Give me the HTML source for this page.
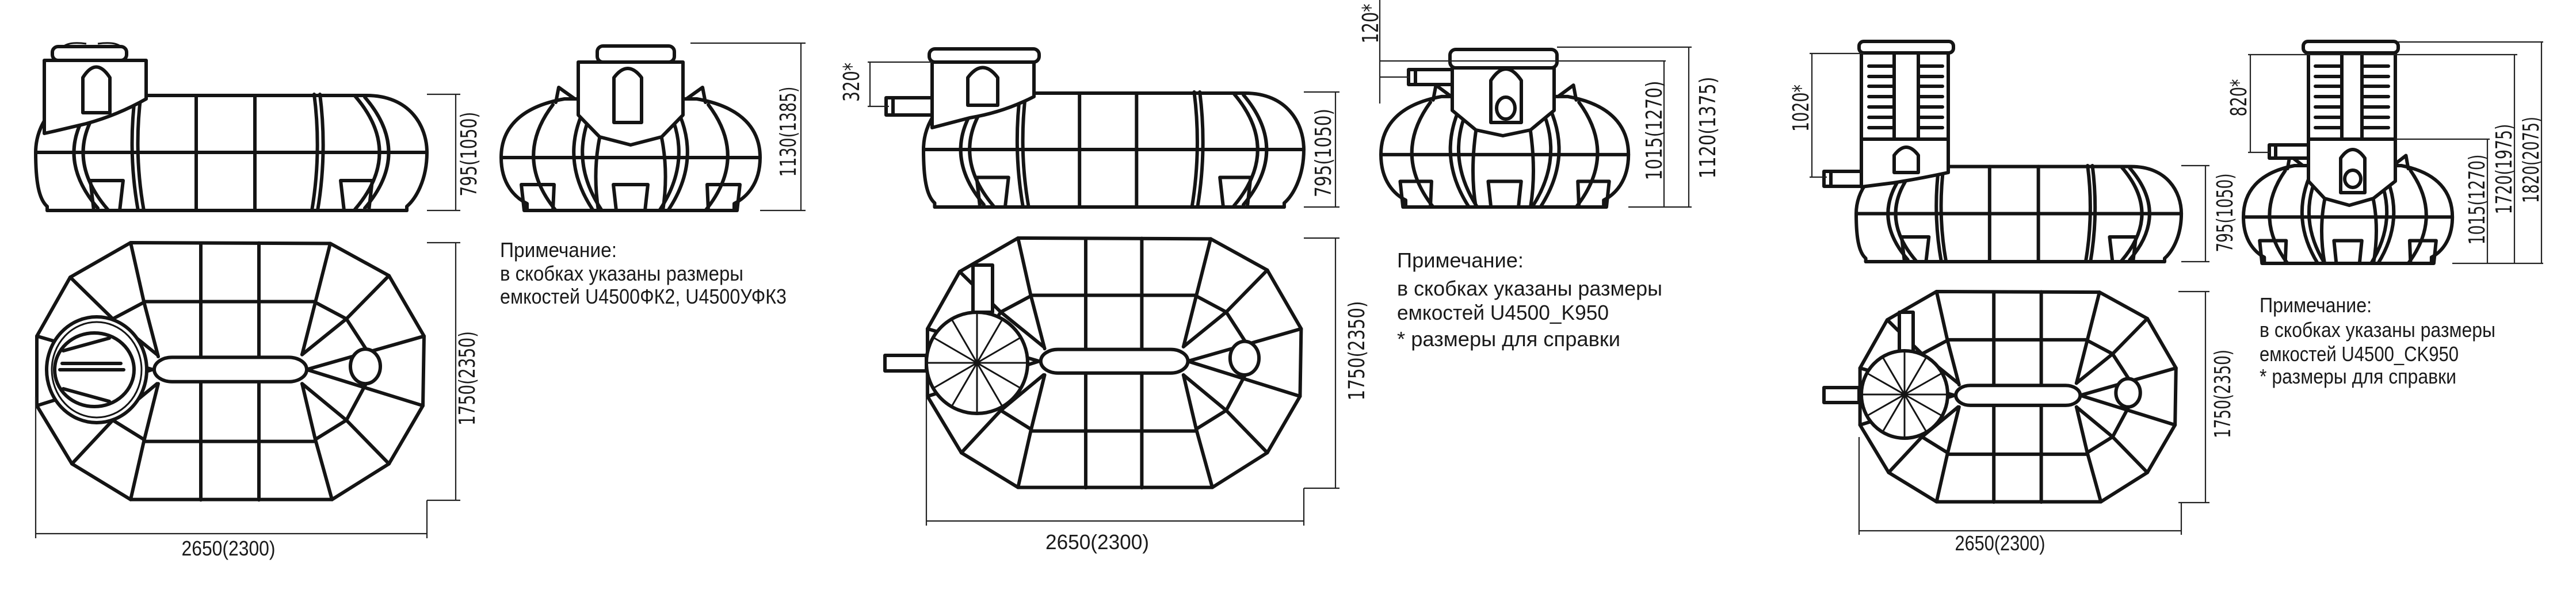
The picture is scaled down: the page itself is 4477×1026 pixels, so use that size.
<!DOCTYPE html>
<html><head><meta charset="utf-8"><style>
html,body{margin:0;padding:0;background:#fff}
svg{display:block}
.t{fill:none;stroke:#141414;stroke-width:6;stroke-linejoin:round;stroke-linecap:round}
.w{fill:#fff;stroke:#141414;stroke-width:6;stroke-linejoin:round}
.f{stroke:#141414;stroke-width:3;fill:none}
.d{stroke:#222;stroke-width:2.2;fill:none}
text{font-family:"Liberation Sans Narrow","Liberation Sans",sans-serif;fill:#1a1a1a}
.v{font-family:"DejaVu Sans","Liberation Sans",sans-serif;font-size:38px}
.n{font-size:36px}
</style></head><body>
<svg width="4477" height="1026" viewBox="0 0 4477 1026" xmlns="http://www.w3.org/2000/svg">
<defs>
<g id="side">
 <path vector-effect="non-scaling-stroke" class="w" d="M100,2 H575 C650,2 680,55 680,101 C680,150 660,182 645,195 V202 H20 V195 C5,182 0,150 0,101 C0,55 30,2 100,2 Z"/>
 <g class="t">
  <path vector-effect="non-scaling-stroke" d="M0,101 H680"/>
  <path vector-effect="non-scaling-stroke" d="M125,3 Q40,101 125,200"/>
  <path vector-effect="non-scaling-stroke" d="M108,5 Q25,101 108,198"/>
  <path vector-effect="non-scaling-stroke" d="M555,3 Q640,101 555,200"/>
  <path vector-effect="non-scaling-stroke" d="M572,5 Q655,101 572,198"/>
  <path vector-effect="non-scaling-stroke" d="M173,0 Q160,101 178,202"/>
  <path vector-effect="non-scaling-stroke" d="M183,0 Q170,101 188,202"/>
  <path vector-effect="non-scaling-stroke" d="M494,0 Q507,101 490,202"/>
  <path vector-effect="non-scaling-stroke" d="M484,0 Q497,101 480,202"/>
  <path vector-effect="non-scaling-stroke" d="M279,2 V202"/>
  <path vector-effect="non-scaling-stroke" d="M381,2 V202"/>
  <path vector-effect="non-scaling-stroke" d="M95,150 H152 L146,202 H101 Z"/>
  <path vector-effect="non-scaling-stroke" d="M530,150 H585 L579,202 H536 Z"/>
  <path vector-effect="non-scaling-stroke" d="M20,202 H645"/>
 </g>
</g>
<g id="end">
 <path vector-effect="non-scaling-stroke" class="w" d="M110,8 C30,22 0,62 0,110 C0,157 25,180 45,190 V202 H405 V190 C425,180 450,157 450,110 C450,62 420,22 340,8 Z"/>
 <g class="t">
  <path vector-effect="non-scaling-stroke" d="M95,14 L100,-12 L128,8"/>
  <path vector-effect="non-scaling-stroke" d="M355,14 L350,-12 L322,8"/>
  <path vector-effect="non-scaling-stroke" d="M0,110 H450"/>
  <path vector-effect="non-scaling-stroke" d="M90,18 Q20,110 95,202"/>
  <path vector-effect="non-scaling-stroke" d="M155,6 Q95,105 160,202"/>
  <path vector-effect="non-scaling-stroke" d="M170,6 Q110,105 175,202"/>
  <path vector-effect="non-scaling-stroke" d="M360,18 Q430,110 355,202"/>
  <path vector-effect="non-scaling-stroke" d="M295,6 Q355,105 290,202"/>
  <path vector-effect="non-scaling-stroke" d="M280,6 Q340,105 275,202"/>
  <path vector-effect="non-scaling-stroke" d="M35,157 H92 L90,202 H40 Z"/>
  <path vector-effect="non-scaling-stroke" d="M358,157 H415 L410,202 H360 Z"/>
  <path vector-effect="non-scaling-stroke" d="M195,157 H255 L250,202 H200 Z"/>
 </g>
</g>
<g id="top">
 <polygon vector-effect="non-scaling-stroke" class="w" points="165,0 512,2 614,84 675,238 673,415 614,563 515,654 165,654 63,563 2,415 2,238 60,88"/>
 <g class="t">
  <path vector-effect="non-scaling-stroke" d="M165,0 L188,150 L213,290 M213,359 L188,506 L165,654"/>
  <path vector-effect="non-scaling-stroke" d="M512,2 L486,152 L463,285 M463,359 L486,501 L515,654"/>
  <path vector-effect="non-scaling-stroke" d="M287,1 V655 M388,1 V655"/>
  <path vector-effect="non-scaling-stroke" d="M188,150 H486 M188,506 H486"/>
  <path vector-effect="non-scaling-stroke" d="M486,152 L540,194 L614,84 M463,285 L540,194 L576,275 M471,323 L675,238 M471,323 L673,415 M486,501 L540,452 L614,563 M463,359 L540,452 L576,354"/>
  <path vector-effect="non-scaling-stroke" d="M188,152 L134,194 L60,88 M211,285 L134,194 L98,275 M203,323 L2,238 M203,323 L2,415 M188,501 L134,452 L63,563 M211,359 L134,452 L98,354"/>
  <rect vector-effect="non-scaling-stroke" class="w" x="206" y="292" width="265" height="62" rx="31"/>
  <ellipse vector-effect="non-scaling-stroke" class="w" cx="573" cy="315" rx="26" ry="44"/>
 </g>
</g>
</defs>

<!-- ============ PANEL 1 ============ -->
<use href="#side" transform="translate(62,164)"/>
<g class="t">
 <path class="w" d="M77,232 V105 H254 V172 Q205,200 150,215 L95,228 Z"/>
 <path class="w" d="M144,196 V135 Q167,98 191,135 V196 Z"/>
 <rect class="w" x="91" y="81" width="129" height="24" rx="10"/>
</g>
<path class="f" d="M110,81 Q120,72 150,76 M170,76 Q200,72 210,81"/>
<use href="#end" transform="translate(871,164)"/>
<g class="t">
 <path class="w" d="M1005,108 H1187 V200 L1150,238 L1096,252 L1042,238 L1005,200 Z"/>
 <path class="w" d="M1067,213 V135 Q1091,103 1115,135 V213 Z"/>
 <rect class="w" x="1038" y="80" width="134" height="28" rx="10"/>
 <path d="M1042,240 Q1030,300 1040,366 M1150,240 Q1162,300 1152,366"/>
</g>
<use href="#top" transform="translate(62,422) scale(1,0.683)"/>
<g class="t">
 <ellipse class="w" cx="168" cy="643" rx="87" ry="92"/>
 <ellipse cx="168" cy="643" rx="78" ry="83" class="f"/>
 <ellipse class="w" cx="164" cy="643" rx="69" ry="64"/>
 <path d="M104,643 H215 M108,632 H210 M110,610 L190,588 M110,676 L190,698"/>
</g>
<g class="d">
 <path d="M742,164 H800 M742,366 H800 M792,164 V366"/>
 <path d="M1200,75 H1400 M1321,366 H1400 M1392,75 V366"/>
 <path d="M742,422 H800 M742,870 H800 M792,422 V870"/>
 <path d="M62,690 V936 M742,870 V936 M62,928 H742"/>
</g>
<text class="v" transform="translate(828,268) rotate(-90)" text-anchor="middle" textLength="147" lengthAdjust="spacingAndGlyphs">795(1050)</text>
<text class="v" transform="translate(1383,229) rotate(-90)" text-anchor="middle" textLength="157" lengthAdjust="spacingAndGlyphs">1130(1385)</text>
<text class="v" transform="translate(825,658) rotate(-90)" text-anchor="middle" textLength="164" lengthAdjust="spacingAndGlyphs">1750(2350)</text>
<text class="n" x="397" y="966" text-anchor="middle" textLength="163" lengthAdjust="spacingAndGlyphs">2650(2300)</text>
<text class="n" x="869" y="447" textLength="203" lengthAdjust="spacingAndGlyphs">Примечание:</text>
<text class="n" x="869" y="488" textLength="423" lengthAdjust="spacingAndGlyphs">в скобках указаны размеры</text>
<text class="n" x="869" y="528" textLength="498" lengthAdjust="spacingAndGlyphs">емкостей U4500ФК2, U4500УФК3</text>

<!-- ============ PANEL 2 ============ -->
<use href="#side" transform="translate(1605,160) scale(0.972,0.99)"/>
<g class="t">
 <path class="w" d="M1620,222 V108 H1797 V168 Q1745,195 1685,205 Z"/>
 <path class="w" d="M1682,183 V135 Q1708,100 1734,135 V183 Z"/>
 <rect class="w" x="1615" y="85" width="191" height="23" rx="10"/>
 <rect class="w" x="1540" y="170" width="80" height="30"/>
 <path d="M1552,170 V200"/>
</g>
<use href="#end" transform="translate(2400,160) scale(0.956,0.99)"/>
<g class="t">
 <path class="w" d="M2524,118 H2701 V192 L2660,226 L2612,236 L2565,226 L2524,192 Z"/>
 <path class="w" d="M2591,213 V140 Q2617,100 2644,140 V213 Z"/>
 <ellipse cx="2617" cy="188" rx="16" ry="19"/>
 <rect class="w" x="2520" y="86" width="186" height="32" rx="10"/>
 <rect class="w" x="2448" y="121" width="76" height="26"/>
 <path d="M2460,121 V147 M2565,228 Q2555,300 2565,360 M2660,228 Q2670,300 2660,360"/>
</g>
<use href="#top" transform="translate(1610,414) scale(0.965,0.663)"/>
<g class="t">
 <rect class="w" x="1691" y="461" width="34" height="82"/>
 <ellipse class="w" cx="1698" cy="631" rx="88" ry="88"/>
 <path class="f" d="M1698,631 L1784,631 M1698,631 L1772,588 M1698,631 L1741,557 M1698,631 L1698,545 M1698,631 L1655,557 M1698,631 L1624,588 M1698,631 L1612,631 M1698,631 L1624,674 M1698,631 L1655,705 M1698,631 L1698,717 M1698,631 L1741,705 M1698,631 L1772,674"/>
 <rect class="w" x="1538" y="618" width="72" height="27"/>
</g>
<g class="d">
 <path d="M1508,108 H1620 M1508,185 H1545 M1512,108 V185"/>
 <path d="M2266,160 H2328 M2266,360 H2328 M2321,160 V360"/>
 <path d="M2398,0 V180 M2398,106 H2895 M2398,134 H2450 M2892,106 V360 M2830,360 H2940"/>
 <path d="M2706,82 H2940 M2935,82 V360"/>
 <path d="M2266,414 H2328 M2266,849 H2328 M2321,414 V849"/>
 <path d="M1610,650 V914 M2266,849 V914 M1610,906 H2266"/>
</g>
<text class="v" transform="translate(1493,143) rotate(-90)" text-anchor="middle" textLength="68" lengthAdjust="spacingAndGlyphs">320*</text>
<text class="v" transform="translate(2313,266) rotate(-90)" text-anchor="middle" textLength="154" lengthAdjust="spacingAndGlyphs">795(1050)</text>
<text class="v" transform="translate(2395,41) rotate(-90)" text-anchor="middle" textLength="69" lengthAdjust="spacingAndGlyphs">120*</text>
<text class="v" transform="translate(2888,227) rotate(-90)" text-anchor="middle" textLength="173" lengthAdjust="spacingAndGlyphs">1015(1270)</text>
<text class="v" transform="translate(2981,222) rotate(-90)" text-anchor="middle" textLength="177" lengthAdjust="spacingAndGlyphs">1120(1375)</text>
<text class="v" transform="translate(2371,610) rotate(-90)" text-anchor="middle" textLength="173" lengthAdjust="spacingAndGlyphs">1750(2350)</text>
<text class="n" x="1907" y="955" text-anchor="middle" textLength="180" lengthAdjust="spacingAndGlyphs">2650(2300)</text>
<text class="n" x="2428" y="465" textLength="220" lengthAdjust="spacingAndGlyphs">Примечание:</text>
<text class="n" x="2428" y="514" textLength="461" lengthAdjust="spacingAndGlyphs">в скобках указаны размеры</text>
<text class="n" x="2428" y="556" textLength="368" lengthAdjust="spacingAndGlyphs">емкостей U4500_K950</text>
<text class="n" x="2428" y="602" textLength="388" lengthAdjust="spacingAndGlyphs">* размеры для справки</text>

<!-- ============ PANEL 3 ============ -->
<use href="#side" transform="translate(3226,288) scale(0.831,0.827)"/>
<g class="t">
 <path class="w" d="M3235,325 V92 H3386 V300 Q3340,310 3290,318 Z"/>
 <path d="M3235,242 H3386 M3292,92 V242 M3334,92 V242"/>
 <path d="M3248,115 H3292 M3248,133 H3292 M3248,150 H3292 M3248,168 H3292 M3248,186 H3292 M3248,204 H3292 M3248,222 H3292"/>
 <path d="M3334,115 H3376 M3334,133 H3376 M3334,150 H3376 M3334,168 H3376 M3334,186 H3376 M3334,204 H3376 M3334,222 H3376"/>
 <path class="w" d="M3292,300 V270 Q3313,242 3334,270 V300 Z"/>
 <rect class="w" x="3231" y="72" width="164" height="20" rx="8"/>
 <rect class="w" x="3170" y="298" width="65" height="26"/>
 <path d="M3182,298 V324"/>
</g>
<use href="#end" transform="translate(3899,281) scale(0.807,0.876)"/>
<g class="t">
 <path class="w" d="M4012,92 H4163 V315 L4125,345 L4083,357 L4040,345 L4012,315 Z"/>
 <path d="M4012,242 H4163 M4070,92 V242 M4105,92 V242"/>
 <path d="M4024,115 H4070 M4024,133 H4070 M4024,150 H4070 M4024,168 H4070 M4024,186 H4070 M4024,204 H4070 M4024,222 H4070"/>
 <path d="M4105,115 H4151 M4105,133 H4151 M4105,150 H4151 M4105,168 H4151 M4105,186 H4151 M4105,204 H4151 M4105,222 H4151"/>
 <path class="w" d="M4068,335 V275 Q4089,245 4110,275 V335 Z"/>
 <ellipse cx="4089" cy="311" rx="14" ry="15"/>
 <rect class="w" x="4003" y="72" width="165" height="20" rx="8"/>
 <rect class="w" x="3944" y="252" width="68" height="23"/>
 <path d="M3955,252 V275 M4040,348 Q4030,400 4040,458 M4125,348 Q4135,400 4125,458"/>
</g>
<use href="#top" transform="translate(3231,507) scale(0.816,0.559)"/>
<g class="t">
 <rect class="w" x="3301" y="543" width="24" height="69"/>
 <ellipse class="w" cx="3310" cy="686" rx="75" ry="76"/>
 <path class="f" d="M3310,686 L3385,686 M3310,686 L3375,649 M3310,686 L3348,621 M3310,686 L3310,610 M3310,686 L3272,621 M3310,686 L3245,649 M3310,686 L3235,686 M3310,686 L3245,723 M3310,686 L3272,751 M3310,686 L3310,762 M3310,686 L3348,751 M3310,686 L3375,723"/>
 <rect class="w" x="3170" y="674" width="61" height="26"/>
</g>
<g class="d">
 <path d="M3145,93 H3240 M3145,308 H3175 M3149,93 V308"/>
 <path d="M3791,288 H3840 M3791,455 H3840 M3833,288 V455"/>
 <path d="M3907,95 H4375 M3907,265 H3945 M3911,95 V265"/>
 <path d="M4163,242 H4327 M4323,242 V458 M4370,95 V458 M4168,73 H4420 M4417,73 V458 M4262,458 H4420"/>
 <path d="M3786,507 H3840 M3786,874 H3840 M3833,507 V874"/>
 <path d="M3231,760 V930 M3791,874 V930 M3231,923 H3791"/>
</g>
<text class="v" transform="translate(3143,188) rotate(-90)" text-anchor="middle" textLength="82" lengthAdjust="spacingAndGlyphs">1020*</text>
<text class="v" transform="translate(3880,370) rotate(-90)" text-anchor="middle" textLength="137" lengthAdjust="spacingAndGlyphs">795(1050)</text>
<text class="v" transform="translate(3904,170) rotate(-90)" text-anchor="middle" textLength="65" lengthAdjust="spacingAndGlyphs">820*</text>
<text class="v" transform="translate(4318,347) rotate(-90)" text-anchor="middle" textLength="157" lengthAdjust="spacingAndGlyphs">1015(1270)</text>
<text class="v" transform="translate(4365,294) rotate(-90)" text-anchor="middle" textLength="157" lengthAdjust="spacingAndGlyphs">1720(1975)</text>
<text class="v" transform="translate(4412,278) rotate(-90)" text-anchor="middle" textLength="150" lengthAdjust="spacingAndGlyphs">1820(2075)</text>
<text class="v" transform="translate(3876,685) rotate(-90)" text-anchor="middle" textLength="154" lengthAdjust="spacingAndGlyphs">1750(2350)</text>
<text class="n" x="3476" y="957" text-anchor="middle" textLength="157" lengthAdjust="spacingAndGlyphs">2650(2300)</text>
<text class="n" x="3927" y="543" textLength="195" lengthAdjust="spacingAndGlyphs">Примечание:</text>
<text class="n" x="3927" y="586" textLength="410" lengthAdjust="spacingAndGlyphs">в скобках указаны размеры</text>
<text class="n" x="3927" y="628" textLength="346" lengthAdjust="spacingAndGlyphs">емкостей U4500_CK950</text>
<text class="n" x="3927" y="667" textLength="342" lengthAdjust="spacingAndGlyphs">* размеры для справки</text>
</svg>
</body></html>
